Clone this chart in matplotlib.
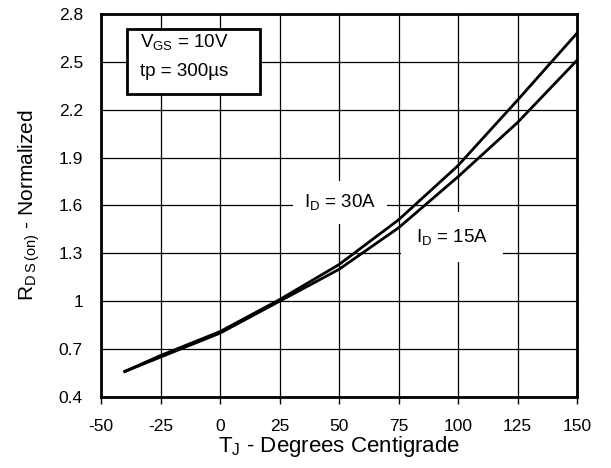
import matplotlib
matplotlib.use("Agg")
import matplotlib.pyplot as plt
from matplotlib.patches import Rectangle

plt.rcParams['font.family'] = ['Liberation Sans', 'DejaVu Sans']
plt.rcParams['mathtext.fontset'] = 'custom'
plt.rcParams['mathtext.rm'] = 'Liberation Sans'
plt.rcParams['axes.unicode_minus'] = False

# junction temperature (deg C) and normalized on-resistance
temp = [-40, -25, 0, 25, 50, 75, 100, 125, 150]
rds_30a = [0.56, 0.66, 0.81, 1.01, 1.23, 1.51, 1.85, 2.26, 2.68]
rds_15a = [0.56, 0.65, 0.80, 1.00, 1.20, 1.46, 1.78, 2.12, 2.51]

x_ticks = [-50, -25, 0, 25, 50, 75, 100, 125, 150]
y_ticks = [0.4, 0.7, 1.0, 1.3, 1.6, 1.9, 2.2, 2.5, 2.8]
y_labels = ['0.4', '0.7', '1', '1.3', '1.6', '1.9', '2.2', '2.5', '2.8']

fig = plt.figure(figsize=(6.11, 4.68), dpi=100)
ax = fig.add_axes([0.1653, 0.1517, 0.7791, 0.8184])

ax.plot(temp, rds_30a, color='black', lw=2, zorder=3)
ax.plot(temp, rds_15a, color='black', lw=2, zorder=3)

ax.set_xlim(-50, 150)
ax.set_ylim(0.4, 2.8)
ax.set_xticks(x_ticks)
ax.set_yticks(y_ticks)
ax.set_yticklabels(y_labels)
ax.grid(True, color='black', lw=0.9)
ax.tick_params(axis='x', direction='out', length=5, width=1, labelsize=12.5, pad=11)
ax.tick_params(axis='y', length=0, labelsize=12.5, pad=13)
for s in ax.spines.values():
    s.set_linewidth(2)

ax.set_xlabel(r'$\mathregular{T_J}$ - Degrees Centigrade', fontsize=16, labelpad=0)
ax.set_ylabel(r'$\mathregular{R_{D\,S\,(on)}}$ - Normalized', fontsize=15, labelpad=12)

# conditions box
ax.add_patch(Rectangle((0.0546, 0.791), 0.2794, 0.170, transform=ax.transAxes,
                       fc='white', ec='black', lw=2, zorder=4))
ax.text(0.0819, 0.927, r'$\mathregular{V_{GS}}$ = 10V', transform=ax.transAxes,
        fontsize=13.5, va='center', ha='left', zorder=5)
ax.text(0.0819, 0.849, 'tp = 300µs', transform=ax.transAxes,
        fontsize=13.5, va='center', ha='left', zorder=5)

ax.text(50.4, 1.62, r'$\mathregular{I_D}$ = 30A', fontsize=13.5, va='center', ha='center',
        bbox=dict(boxstyle='square,pad=0.6', fc='white', ec='none'), zorder=2)
ax.text(97.5, 1.40, r'$\mathregular{I_D}$ = 15A', fontsize=13.5, va='center', ha='center',
        bbox=dict(boxstyle='square,pad=0.8', fc='white', ec='none'), zorder=2)

fig.savefig('out.png', dpi=100)
